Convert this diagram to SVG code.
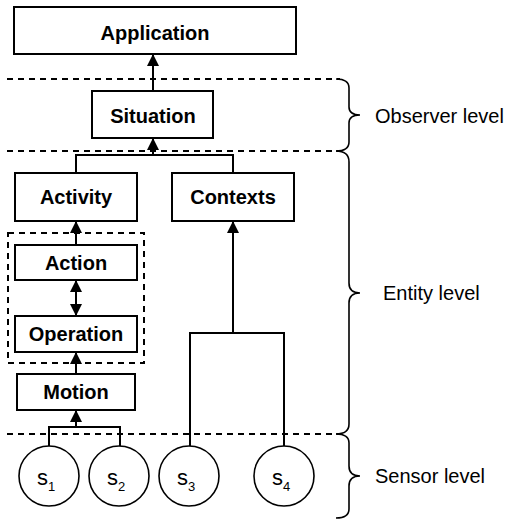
<svg xmlns="http://www.w3.org/2000/svg" width="509" height="520" viewBox="0 0 509 520">
<style>
.box{fill:#fff;stroke:#000;stroke-width:2}
.lbl{font-family:"Liberation Sans",Arial,sans-serif;font-weight:bold;font-size:20px;text-anchor:middle;fill:#000}
.lvl{font-family:"Liberation Sans",Arial,sans-serif;font-size:20px;fill:#000}
.dash{fill:none;stroke:#000;stroke-width:2;stroke-dasharray:6 5}
.conn{fill:none;stroke:#000;stroke-width:2}
.brace{fill:none;stroke:#000;stroke-width:1.6}
.sensor{fill:#fff;stroke:#000;stroke-width:1.6}
.s{font-family:"Liberation Sans",Arial,sans-serif;font-size:22px;fill:#000}
.sub{font-size:13px}
</style>
<defs>
<marker id="ah" markerWidth="12" markerHeight="12" refX="12" refY="6" orient="auto" markerUnits="userSpaceOnUse">
<path d="M0,0 L12,6 L0,12 Z" fill="#000"/>
</marker>
<marker id="ahs" markerWidth="12" markerHeight="12" refX="0" refY="6" orient="auto" markerUnits="userSpaceOnUse">
<path d="M12,0 L0,6 L12,12 Z" fill="#000"/>
</marker>
</defs>
<g id="levels">
<line class="dash" x1="7" y1="79" x2="340" y2="79"/>
<line class="dash" x1="7" y1="151" x2="340" y2="151"/>
<line class="dash" x1="7" y1="434" x2="340" y2="434"/>
<path class="brace" d="M336,79 Q349,79 349,88 L349,107 Q349,115 360,115 Q349,115 349,123 L349,142 Q349,151 336,151"/>
<path class="brace" d="M336,151 Q349,151 349,162 L349,283 Q349,293 360,293 Q349,293 349,303 L349,424 Q349,434 336,434"/>
<path class="brace" d="M336,434 Q349,434 349,443 L349,466 Q349,476 360,476 Q349,476 349,486 L349,509 Q349,518 336,518"/>
<text class="lvl" x="375" y="123">Observer level</text>
<text class="lvl" x="383" y="300">Entity level</text>
<text class="lvl" x="375" y="483">Sensor level</text>
</g>
<g id="group-action-operation">
<rect class="dash" x="8" y="233" width="136" height="130"/>
</g>
<g id="application"><rect class="box" x="14" y="7" width="282" height="47"/><text class="lbl" x="155" y="40">Application</text></g>
<g id="situation"><rect class="box" x="92" y="91" width="121" height="47"/><text class="lbl" x="153" y="123">Situation</text></g>
<g id="activity"><rect class="box" x="15" y="173" width="122" height="48"/><text class="lbl" x="76" y="204">Activity</text></g>
<g id="contexts"><rect class="box" x="172" y="173" width="122" height="48"/><text class="lbl" x="233" y="204">Contexts</text></g>
<g id="action"><rect class="box" x="15" y="245" width="122" height="35"/><text class="lbl" x="76" y="270">Action</text></g>
<g id="operation"><rect class="box" x="15" y="316" width="122" height="36"/><text class="lbl" x="76" y="341">Operation</text></g>
<g id="motion"><rect class="box" x="17" y="374" width="118" height="36"/><text class="lbl" x="76" y="399">Motion</text></g>
<g id="s1"><circle class="sensor" cx="49" cy="476" r="30"/><text class="s" x="37" y="485">s<tspan class="sub" dy="6">1</tspan></text></g>
<g id="s2"><circle class="sensor" cx="119" cy="476" r="30"/><text class="s" x="107" y="485">s<tspan class="sub" dy="6">2</tspan></text></g>
<g id="s3"><circle class="sensor" cx="189" cy="476" r="30"/><text class="s" x="177" y="485">s<tspan class="sub" dy="6">3</tspan></text></g>
<g id="s4"><circle class="sensor" cx="284" cy="476" r="30"/><text class="s" x="272" y="485">s<tspan class="sub" dy="6">4</tspan></text></g>
<g id="connectors">
<line class="conn" x1="153" y1="91" x2="153" y2="54" marker-end="url(#ah)"/>
<polyline class="conn" points="76,173 76,155 233,155 233,173"/>
<line class="conn" x1="153" y1="155" x2="153" y2="138" marker-end="url(#ah)"/>
<line class="conn" x1="76" y1="245" x2="76" y2="221" marker-end="url(#ah)"/>
<line class="conn" x1="76" y1="280" x2="76" y2="316" marker-start="url(#ahs)" marker-end="url(#ah)"/>
<line class="conn" x1="76" y1="374" x2="76" y2="352" marker-end="url(#ah)"/>
<polyline class="conn" points="49,446 49,427 120,427 120,446"/>
<line class="conn" x1="76" y1="427" x2="76" y2="410" marker-end="url(#ah)"/>
<polyline class="conn" points="190,446 190,333 284,333 284,446"/>
<line class="conn" x1="233" y1="333" x2="233" y2="221" marker-end="url(#ah)"/>
</g>
</svg>
